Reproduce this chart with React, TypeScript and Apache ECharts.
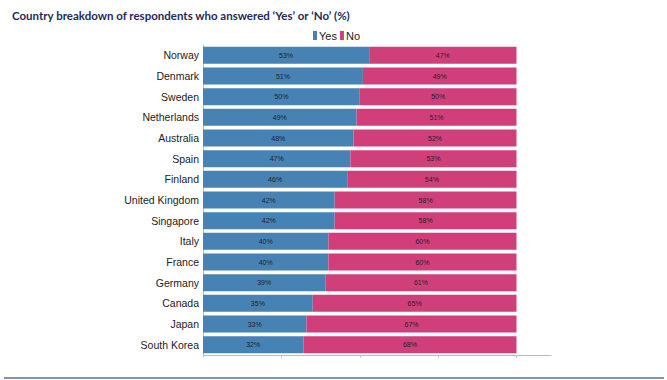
import React, { useEffect, useRef } from "react";
import * as echarts from "echarts";

const countries = ["Norway", "Denmark", "Sweden", "Netherlands", "Australia", "Spain", "Finland", "United Kingdom", "Singapore", "Italy", "France", "Germany", "Canada", "Japan", "South Korea"];
const yesValues = [53, 51, 50, 49, 48, 47, 46, 42, 42, 40, 40, 39, 35, 33, 32];
const noValues = [47, 49, 50, 51, 52, 53, 54, 58, 58, 60, 60, 61, 65, 67, 68];
const tickValues = [0, 25, 50, 75, 100];

export default function App() {
  const ref = useRef<HTMLDivElement>(null);
  useEffect(() => {
    const chart = echarts.init(ref.current!, null, { renderer: "svg" });
    const label = {
      show: true,
      position: "inside",
      formatter: "{c}%",
      fontSize: 7,
      color: "#222",
      fontFamily: "Liberation Sans, Arial, sans-serif",
    };
    chart.setOption({
      animation: false,
      backgroundColor: "#fff",
      title: {
        text: "Country breakdown of respondents who answered ‘Yes’ or ‘No’ (%)",
        left: 12,
        top: 9,
        padding: 0,
        textStyle: { fontSize: 11.5, fontWeight: "bold", color: "#1f2a5c", fontFamily: "Lato, Liberation Sans, sans-serif" },
      },
      legend: {
        left: 313,
        top: 30,
        padding: 0,
        itemWidth: 4,
        itemHeight: 9,
        itemGap: 3,
        icon: "rect",
        textStyle: { fontSize: 11, color: "#222", padding: [0, 0, 0, -3], fontFamily: "Liberation Sans, Arial, sans-serif" },
        data: ["Yes", "No"],
      },
      grid: { left: 203, right: 116, top: 45, bottom: 25, containLabel: false },
      xAxis: {
        type: "value",
        min: 0,
        max: 111,
        interval: 25,
        splitLine: { show: false },
        axisLine: { show: true, lineStyle: { color: "#bbb" } },
        axisTick: { show: true, length: 3, lineStyle: { color: "#ccc" }, customValues: tickValues },
        axisLabel: { show: false },
      },
      yAxis: {
        type: "category",
        inverse: true,
        data: countries,
        axisLine: { show: true, lineStyle: { color: "#bbb" } },
        axisTick: { show: false },
        axisLabel: { fontSize: 10.5, color: "#222", margin: 4, fontFamily: "Liberation Sans, Arial, sans-serif" },
      },
      series: [
        {
          name: "Yes",
          type: "bar",
          stack: "t",
          data: yesValues,
          barWidth: 17,
          itemStyle: { color: "#4682b4" },
          label,
        },
        {
          name: "No",
          type: "bar",
          stack: "t",
          data: noValues,
          barWidth: 17,
          itemStyle: { color: "#d13f7a" },
          label,
        },
      ],
      graphic: [
        {
          type: "line",
          shape: { x1: 4, y1: 378, x2: 664, y2: 378 },
          style: { stroke: "#8193ab", lineWidth: 2 },
        },
      ],
    });
    return () => chart.dispose();
  }, []);
  return <div ref={ref} style={{ position: "fixed", left: 0, top: 0, width: 667, height: 380 }} />;
}
